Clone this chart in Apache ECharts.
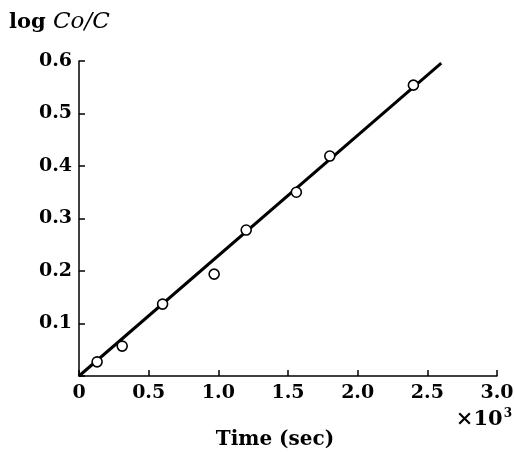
<!DOCTYPE html>
<html>
<head>
<meta charset="utf-8">
<script src="https://cdn.jsdelivr.net/npm/echarts@6/dist/echarts.min.js"></script>
<style>
    html, body { margin: 0; padding: 0; background: #fff; }
    #chart { width: 515px; height: 452px; }
</style>
</head>
<body>
<div id="chart"></div>
<script>
// time in units of 10^3 sec, log Co/C
const timeK = [0.13, 0.31, 0.60, 0.97, 1.20, 1.56, 1.80, 2.40]
const logRatio = [0.027, 0.057, 0.137, 0.194, 0.278, 0.350, 0.419, 0.554]
// fitted straight line through origin
const fitX = [0, 2.6]
const fitY = [0, 0.596]

const serif = '"DejaVu Serif", "Liberation Serif", serif'

const chart = echarts.init(document.getElementById('chart'))

chart.setOption({
    animation: false,
    backgroundColor: '#fff',
    grid: { left: 79, right: 18, top: 61, bottom: 76, outerBoundsMode: 'none' },
    xAxis: {
        type: 'value',
        min: 0,
        max: 3,
        interval: 0.5,
        name: 'Time (sec)',
        nameLocation: 'middle',
        nameGap: 54,
        nameTextStyle: {
            color: '#000', fontFamily: serif, fontWeight: 'bold', fontSize: 20,
            padding: [0, 26, 0, 0]
        },
        axisLine: { lineStyle: { color: '#000', width: 1.5 } },
        axisTick: { inside: true, length: 6, lineStyle: { color: '#000', width: 1.5 } },
        splitLine: { show: false },
        axisLabel: {
            color: '#000', fontFamily: serif, fontWeight: 'bold', fontSize: 19, margin: 8,
            formatter: v => v === 0 ? '0' : v.toFixed(1)
        }
    },
    yAxis: {
        type: 'value',
        min: 0,
        max: 0.6,
        interval: 0.1,
        axisLine: { lineStyle: { color: '#000', width: 1.5 } },
        axisTick: { inside: true, length: 6, lineStyle: { color: '#000', width: 1.5 } },
        splitLine: { show: false },
        axisLabel: {
            color: '#000', fontFamily: serif, fontWeight: 'bold', fontSize: 19, margin: 7,
            formatter: v => v === 0 ? '' : v.toFixed(1)
        }
    },
    graphic: [
        {
            type: 'text',
            left: 9,
            top: 11,
            style: {
                text: '{a|log }{b|Co/C}',
                rich: {
                    a: { fontFamily: serif, fontWeight: 'bold', fontSize: 21, fill: '#000' },
                    b: { fontFamily: serif, fontStyle: 'italic', fontSize: 23, fill: '#000' }
                }
            }
        },
        {
            type: 'text',
            right: 3,
            top: 408,
            style: {
                text: '{a|×10}{b|3}',
                rich: {
                    a: { fontFamily: serif, fontWeight: 'bold', fontSize: 21, fill: '#000' },
                    b: { fontFamily: serif, fontWeight: 'bold', fontSize: 12, fill: '#000', verticalAlign: 'top', padding: [0, 0, 12, 1] }
                }
            }
        }
    ],
    series: [
        {
            type: 'line',
            data: fitX.map((x, i) => [x, fitY[i]]),
            symbol: 'none',
            lineStyle: { color: '#000', width: 3 },
            z: 2
        },
        {
            type: 'scatter',
            data: timeK.map((x, i) => [x, logRatio[i]]),
            symbol: 'circle',
            symbolSize: 10,
            itemStyle: { color: '#fff', borderColor: '#000', borderWidth: 1.6, opacity: 1 },
            z: 3
        }
    ]
})
</script>
</body>
</html>
